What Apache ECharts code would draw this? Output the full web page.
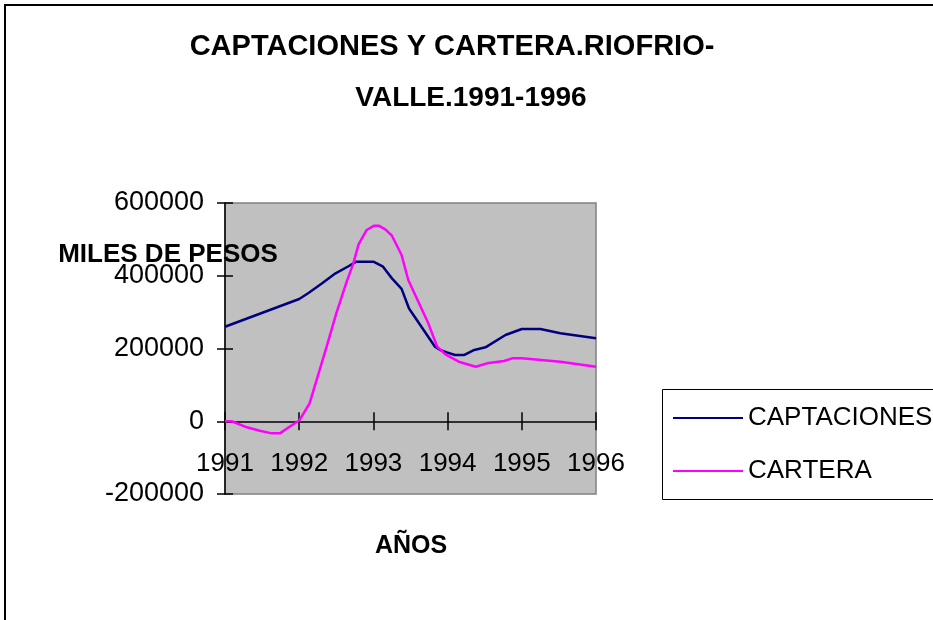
<!DOCTYPE html>
<html>
<head>
<meta charset="utf-8">
<script src="https://cdn.jsdelivr.net/npm/echarts@6/dist/echarts.min.js"></script>
<style>
html,body{margin:0;padding:0;background:#fff;}
#chart{width:933px;height:620px;}
</style>
</head>
<body>
<div id="chart"></div>
<script>
// ---- DATA ----
var titleLine1 = 'CAPTACIONES Y CARTERA.RIOFRIO-';
var titleLine2 = 'VALLE.1991-1996';
var yAxisTitle = 'MILES DE PESOS';
var xAxisTitle = 'AÑOS';
var seriesNames = ['CAPTACIONES', 'CARTERA'];

var captYears  = [1991.0, 1992.0, 1992.12, 1992.3, 1992.49, 1992.67, 1992.77, 1993.0, 1993.13, 1993.25, 1993.38, 1993.48, 1993.83, 1993.9, 1993.99, 1994.1, 1994.22, 1994.36, 1994.51, 1994.78, 1995.0, 1995.25, 1995.52, 1996.0];
var captValues = [259900, 336000, 351700, 378000, 406700, 426800, 438700, 438700, 424900, 392800, 364000, 310000, 205000, 195900, 189500, 182100, 182100, 195900, 203200, 237100, 253600, 253600, 241700, 228000];

var cartYears  = [1991.0, 1991.09, 1991.27, 1991.47, 1991.63, 1991.74, 1991.85, 1992.0, 1992.14, 1992.37, 1992.5, 1992.64, 1992.73, 1992.8, 1992.91, 1993.01, 1993.07, 1993.16, 1993.25, 1993.38, 1993.47, 1993.74, 1993.86, 1993.97, 1994.15, 1994.38, 1994.53, 1994.76, 1994.87, 1995.0, 1995.52, 1996.0];
var cartValues = [0, 0, -15000, -26000, -33300, -33300, -17700, 2000, 49300, 205000, 296700, 383700, 434200, 486300, 525800, 537600, 537600, 527600, 510100, 457000, 388300, 269200, 205000, 184000, 163700, 150000, 159200, 165600, 173000, 173000, 163700, 150000];

var xMin = 1991, xMax = 1996, xStep = 1;
var yMin = -200000, yMax = 600000, yStep = 200000;

// ---- CHART ----
var FONT = "'Liberation Sans', Arial, sans-serif";
function pairs(xs, ys) { return xs.map(function (x, i) { return [x, ys[i]]; }); }
function plain(v) { return String(v); }

var chart = echarts.init(document.getElementById('chart'), null, {renderer: 'canvas'});

var tickStyle = {color: '#000', width: 1.5};
var xBase = {
  type: 'value', min: xMin, max: xMax, interval: xStep, gridIndex: 0, position: 'bottom',
  splitLine: {show: false}
};
var yBase = {
  type: 'value', min: yMin, max: yMax, interval: yStep, gridIndex: 0, position: 'left',
  splitLine: {show: false}
};

var option = {
  animation: false,
  backgroundColor: '#ffffff',
  grid: {
    left: 225, top: 203, right: 337, bottom: 126,
    show: true, backgroundColor: '#c0c0c0', borderColor: '#808080', borderWidth: 1.5
  },
  xAxis: [
    // labels only (anchored at the bottom of the plot)
    Object.assign({}, xBase, {
      axisLine: {show: false, onZero: false},
      axisTick: {show: false},
      axisLabel: {show: true, formatter: plain, margin: -43, fontSize: 26, color: '#000', fontFamily: FONT}
    }),
    // axis line at zero with outward ticks
    Object.assign({}, xBase, {
      axisLine: {show: true, onZero: true, onZeroAxisIndex: 0, lineStyle: {color: '#000', width: 1.5}},
      axisTick: {show: true, inside: false, length: 9, lineStyle: tickStyle},
      axisLabel: {show: false}
    }),
    // inward ticks at zero (cross ticks)
    Object.assign({}, xBase, {
      axisLine: {show: false, onZero: true, onZeroAxisIndex: 0},
      axisTick: {show: true, inside: true, length: 9, lineStyle: tickStyle},
      axisLabel: {show: false}
    })
  ],
  yAxis: [
    Object.assign({}, yBase, {
      axisLine: {show: true, lineStyle: {color: '#000', width: 1.5}},
      axisTick: {show: true, inside: false, length: 8, lineStyle: tickStyle},
      axisLabel: {show: true, formatter: plain, margin: 21, fontSize: 27, color: '#000', fontFamily: FONT}
    }),
    Object.assign({}, yBase, {
      axisLine: {show: false},
      axisTick: {show: true, inside: true, length: 8, lineStyle: tickStyle},
      axisLabel: {show: false}
    })
  ],
  legend: {
    show: true, orient: 'vertical', left: 662, top: 389,
    padding: [16, 10, 15, 10], itemWidth: 70, itemHeight: 26, itemGap: 27,
    borderWidth: 0,
    itemStyle: {opacity: 0, color: 'rgba(0,0,0,0)', borderWidth: 0},
    textStyle: {fontSize: 26, color: '#000', fontFamily: FONT, lineHeight: 26},
    data: seriesNames
  },
  series: [
    {
      name: seriesNames[0], type: 'line', xAxisIndex: 0, yAxisIndex: 0,
      data: pairs(captYears, captValues), symbol: 'none', smooth: false,
      lineStyle: {color: '#000080', width: 2.5}, itemStyle: {color: '#000080'}, z: 3
    },
    {
      name: seriesNames[1], type: 'line', xAxisIndex: 0, yAxisIndex: 0,
      data: pairs(cartYears, cartValues), symbol: 'none', smooth: false,
      lineStyle: {color: '#ff00ff', width: 2.5}, itemStyle: {color: '#ff00ff'}, z: 4
    }
  ],
  graphic: [
    {type: 'rect', z: -10, silent: true, shape: {x: 5, y: 5, width: 1100, height: 1100},
     style: {fill: 'none', stroke: '#000', lineWidth: 2}},
    {type: 'rect', z: -5, silent: true, shape: {x: 662.5, y: 389.5, width: 320, height: 110},
     style: {fill: '#fff', stroke: '#000', lineWidth: 1}},
    {type: 'text', z: 100, x: 452, y: 47,
     style: {text: titleLine1, font: 'bold 29px ' + FONT, fill: '#000', align: 'center', verticalAlign: 'middle'}},
    {type: 'text', z: 100, x: 471, y: 98,
     style: {text: titleLine2, font: 'bold 28px ' + FONT, fill: '#000', align: 'center', verticalAlign: 'middle'}},
    {type: 'text', z: 100, x: 168, y: 255,
     style: {text: yAxisTitle, font: 'bold 26px ' + FONT, fill: '#000', align: 'center', verticalAlign: 'middle'}},
    {type: 'text', z: 100, x: 411, y: 546,
     style: {text: xAxisTitle, font: 'bold 25px ' + FONT, fill: '#000', align: 'center', verticalAlign: 'middle'}}
  ]
};
chart.setOption(option);
</script>
</body>
</html>
